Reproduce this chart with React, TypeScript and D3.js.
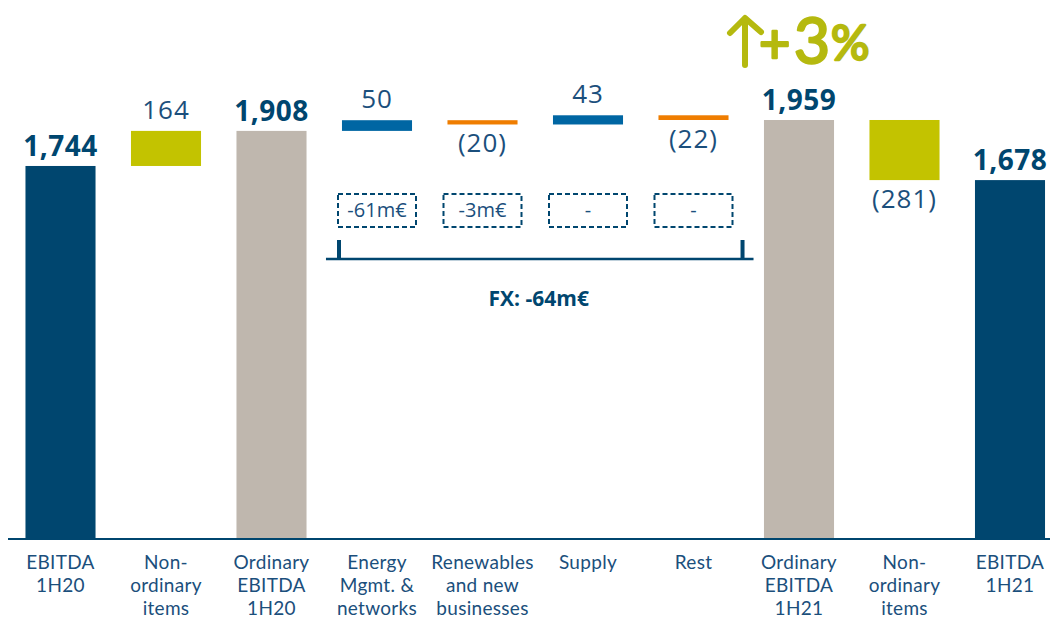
import React from "react";
import * as d3 from "d3";

const categories: string[][] = [
  ["EBITDA", "1H20"],
  ["Non-", "ordinary", "items"],
  ["Ordinary", "EBITDA", "1H20"],
  ["Energy", "Mgmt. &", "networks"],
  ["Renewables", "and new", "businesses"],
  ["Supply"],
  ["Rest"],
  ["Ordinary", "EBITDA", "1H21"],
  ["Non-", "ordinary", "items"],
  ["EBITDA", "1H21"],
];
const values = [1744, 164, 1908, 50, -20, 43, -22, 1959, -281, 1678];
const isTotal = [true, false, true, false, false, false, false, true, false, true];
const fxIndex = [3, 4, 5, 6];
const fxLabels = ["-61m€", "-3m€", "-", "-"];
const fxTotal = "FX: -64m€";
const growthChars = ["+", "3", "%"];

const barColors = [
  "#00466f", "#c3c300", "#bfb7ae", "#0066a3", "#ef7d00",
  "#0066a3", "#ef7d00", "#bfb7ae", "#c3c300", "#00466f",
];

const W = 1052;
const H = 619;
const DARK = "#00466f";
const TEXT = "#1b4f7c";
const LIME = "#b5b90f";
const FONT = "'Open Sans', sans-serif";
const LABEL_FONT = "Lato, 'Open Sans', sans-serif";

export default function App() {
  const idx = values.map((_, i) => i);
  const x = d3
    .scaleBand<number>()
    .domain(idx)
    .range([7.75, 1062.75])
    .paddingInner(0.336)
    .paddingOuter(0.168);
  const y = d3.scaleLinear().domain([0, 2520]).range([539, 0]);
  const bw = x.bandwidth();

  let running = 0;
  const bars = values.map((v, i) => {
    let start: number, end: number;
    if (isTotal[i]) {
      start = 0;
      end = v;
      running = v;
    } else {
      start = running;
      end = running + v;
      running = end;
    }
    return { i, v, start, end, top: y(Math.max(start, end)), bottom: y(Math.min(start, end)) };
  });

  const fmt = d3.format(",");
  const labelText = (v: number, total: boolean) =>
    total ? fmt(v) : v < 0 ? `(${fmt(-v)})` : fmt(v);

  const bx0 = (x(fxIndex[0]) as number) - 16;
  const bx1 = (x(fxIndex[fxIndex.length - 1]) as number) + bw + 25;
  const bracketY = 259;

  const arrowX = 745;
  const growthX = [759, 794, 831];
  const growthY = [63, 63, 60];
  const growthSize = [54, 62, 48];

  return (
    <svg
      width={W}
      height={H}
      style={{ position: "absolute", left: 0, top: 0, background: "#fff" }}
      fontFamily={FONT}
    >
      {/* bars */}
      {bars.map((b) => (
        <rect
          key={b.i}
          x={x(b.i)}
          y={b.top}
          width={bw}
          height={Math.max(1, b.bottom - b.top)}
          fill={barColors[b.i]}
        />
      ))}
      {/* value labels */}
      {bars.map((b) => {
        const cx = (x(b.i) as number) + bw / 2;
        const total = isTotal[b.i];
        const below = !total && b.v < 0;
        return (
          <text
            key={"l" + b.i}
            x={cx}
            y={below ? b.bottom + 28 : b.top - (total ? 10 : 12)}
            textAnchor="middle"
            fontSize={total ? 28 : 26}
            fontWeight={total ? 700 : 400}
            letterSpacing={total ? 0.5 : 1}
            fill={total ? DARK : TEXT}
          >
            {labelText(b.v, total)}
          </text>
        );
      })}
      {/* axis baseline */}
      <line x1={8} x2={1050} y1={y(0)} y2={y(0)} stroke={DARK} strokeWidth={2} />
      {/* category labels */}
      {categories.map((lines, i) =>
        lines.map((ln, j) => (
          <text
            key={"c" + i + "-" + j}
            x={(x(i) as number) + bw / 2}
            y={569 + j * 23}
            textAnchor="middle"
            fontFamily={LABEL_FONT}
            fontSize={19}
            letterSpacing={0.3}
            fill={TEXT}
          >
            {ln}
          </text>
        ))
      )}
      {/* FX dashed boxes */}
      {fxIndex.map((ci, k) => {
        const cx = (x(ci) as number) + bw / 2;
        return (
          <g key={"fx" + k}>
            <rect
              x={cx - 39}
              y={194}
              width={78}
              height={33}
              fill="none"
              stroke={DARK}
              strokeWidth={2}
              strokeDasharray="5,3"
            />
            <text x={cx} y={217} textAnchor="middle" fontSize={20} fill={TEXT}>
              {fxLabels[k]}
            </text>
          </g>
        );
      })}
      {/* bracket */}
      <line x1={bx0} x2={bx1} y1={bracketY} y2={bracketY} stroke={DARK} strokeWidth={2.5} />
      <line x1={bx0 + 13} x2={bx0 + 13} y1={bracketY - 19} y2={bracketY} stroke={DARK} strokeWidth={4} />
      <line x1={bx1 - 11} x2={bx1 - 11} y1={bracketY - 19} y2={bracketY} stroke={DARK} strokeWidth={4} />
      <text
        x={(bx0 + bx1) / 2 - 1}
        y={306}
        textAnchor="middle"
        fontSize={21}
        fontWeight={700}
        fill={DARK}
      >
        {fxTotal}
      </text>
      {/* growth annotation */}
      <g stroke={LIME} strokeWidth={6} strokeLinecap="round" strokeLinejoin="round" fill="none">
        <line x1={arrowX} y1={65} x2={arrowX} y2={19} />
        <path d={`M${arrowX - 15},33 L${arrowX},18 L${arrowX + 16},32`} />
      </g>
      <text
        fontFamily={LABEL_FONT}
        fill={LIME}
        stroke={LIME}
        strokeWidth={2.5}
        strokeLinejoin="round"
      >
        {growthChars.map((c, k) => (
          <tspan key={k} x={growthX[k]} y={growthY[k]} fontSize={growthSize[k]}>
            {c}
          </tspan>
        ))}
      </text>
    </svg>
  );
}
